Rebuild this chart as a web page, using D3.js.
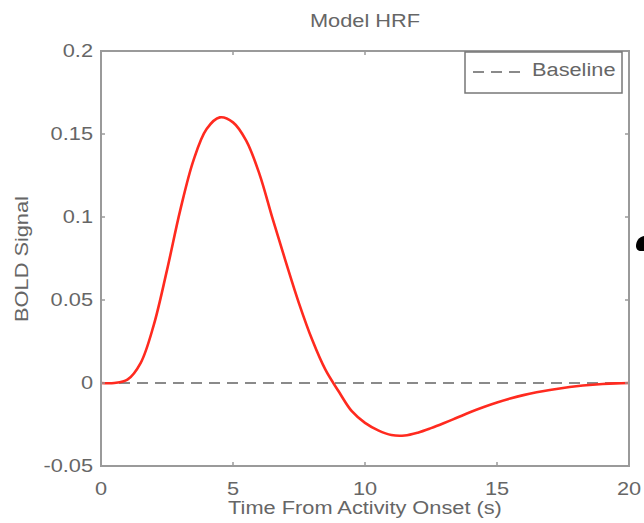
<!DOCTYPE html>
<html>
<head>
<meta charset="utf-8">
<script src="https://cdn.jsdelivr.net/npm/d3@7"></script>
<style>
  body { margin: 0; background: #fff; }
  text { font-family: "Liberation Sans", Arial, sans-serif; fill: #666; }
</style>
</head>
<body>
<div id="chart"></div>
<script>
// time in seconds and the BOLD response
const times = [0, 0.5, 1, 1.5, 2, 2.5, 3, 3.5, 4, 4.5, 5, 5.5, 6, 6.5, 7, 7.5, 8, 8.5, 9, 9.5,
  10, 10.5, 11, 11.5, 12, 12.5, 13, 13.5, 14, 14.5, 15, 15.5, 16, 16.5, 17, 17.5, 18, 18.5, 19, 19.5, 20];
const bold = [0, 0, 0.002, 0.012, 0.035, 0.068, 0.104, 0.134, 0.153, 0.160, 0.157, 0.146, 0.126, 0.099, 0.073, 0.048, 0.026, 0.008, -0.005, -0.017,
  -0.024, -0.0285, -0.0313, -0.0316, -0.0299, -0.0272, -0.0241, -0.0208, -0.0175, -0.0145, -0.0118, -0.0094, -0.0073, -0.0056, -0.0042, -0.003, -0.002, -0.0012, -0.0006, -0.0002, 0];
const xTicks = [0, 5, 10, 15, 20];
const yTicks = [-0.05, 0, 0.05, 0.1, 0.15, 0.2];

const W = 644, H = 523;
const margin = {top: 51, right: 15, bottom: 57, left: 101};
const width = W - margin.left - margin.right,
  height = H - margin.top - margin.bottom;
const stretch = 1.21; // the original type is wide

const svg = d3.select("#chart").append("svg")
  .attr("width", W)
  .attr("height", H);

const g = svg.append("g")
  .attr("transform", `translate(${margin.left},${margin.top})`);

const x = d3.scaleLinear().domain([0, 20]).range([0, width]);
const y = d3.scaleLinear().domain([-0.05, 0.2]).range([height, 0]);

function label(sel, tx, ty, str, anchor, rot) {
  return sel.append("text")
    .attr("transform", `translate(${tx},${ty})` + (rot ? ` rotate(${rot})` : "") + ` scale(${stretch},1)`)
    .attr("text-anchor", anchor)
    .attr("dominant-baseline", "central")
    .style("font-size", "18px")
    .text(str);
}

// baseline
g.append("line")
  .attr("x1", x(0)).attr("x2", x(20))
  .attr("y1", y(0)).attr("y2", y(0))
  .attr("stroke", "#8a8a8a")
  .attr("stroke-width", 2)
  .attr("stroke-dasharray", "11,7");

// HRF curve
const line = d3.line()
  .x((d, i) => x(times[i]))
  .y(d => y(d))
  .curve(d3.curveCatmullRom);

g.append("path")
  .datum(bold)
  .attr("fill", "none")
  .attr("stroke", "#ff2a1f")
  .attr("stroke-width", 2.6)
  .attr("d", line);

// frame and inward ticks, all four sides
const axisColor = "#9a9a9a";
g.append("rect")
  .attr("width", width).attr("height", height)
  .attr("fill", "none").attr("stroke", axisColor).attr("stroke-width", 2);

const tk = 4;
xTicks.forEach(t => {
  g.append("line").attr("x1", x(t)).attr("x2", x(t)).attr("y1", height).attr("y2", height - tk)
    .attr("stroke", axisColor).attr("stroke-width", 1.5);
  g.append("line").attr("x1", x(t)).attr("x2", x(t)).attr("y1", 0).attr("y2", tk)
    .attr("stroke", axisColor).attr("stroke-width", 1.5);
  label(g, x(t), height + 23, d3.format("d")(t), "middle");
});
yTicks.forEach(t => {
  g.append("line").attr("x1", 0).attr("x2", tk).attr("y1", y(t)).attr("y2", y(t))
    .attr("stroke", axisColor).attr("stroke-width", 1.5);
  g.append("line").attr("x1", width).attr("x2", width - tk).attr("y1", y(t)).attr("y2", y(t))
    .attr("stroke", axisColor).attr("stroke-width", 1.5);
  label(g, -8, y(t), t === 0 ? "0" : String(+t.toFixed(2)), "end");
});

// titles
label(svg, 365, 21, "Model HRF", "middle");
label(svg, 365, 508, "Time From Activity Onset (s)", "middle");
label(svg, 22, 259, "BOLD Signal", "middle", -90);

// legend
const leg = svg.append("g").attr("transform", "translate(465,52)");
leg.append("rect")
  .attr("width", 157).attr("height", 41)
  .attr("fill", "#fff").attr("stroke", "#777").attr("stroke-width", 1.5);
leg.append("line")
  .attr("x1", 8).attr("x2", 62).attr("y1", 20).attr("y2", 20)
  .attr("stroke", "#8a8a8a").attr("stroke-width", 2).attr("stroke-dasharray", "11,7");
label(leg, 67, 18, "Baseline", "start");

// stray black mark at the right edge of the original image
svg.append("path")
  .attr("d", "M644,236 C639,237 636,241 636,246 C636,249 638,251 641,251 L644,251 Z")
  .attr("fill", "#000");
</script>
</body>
</html>
